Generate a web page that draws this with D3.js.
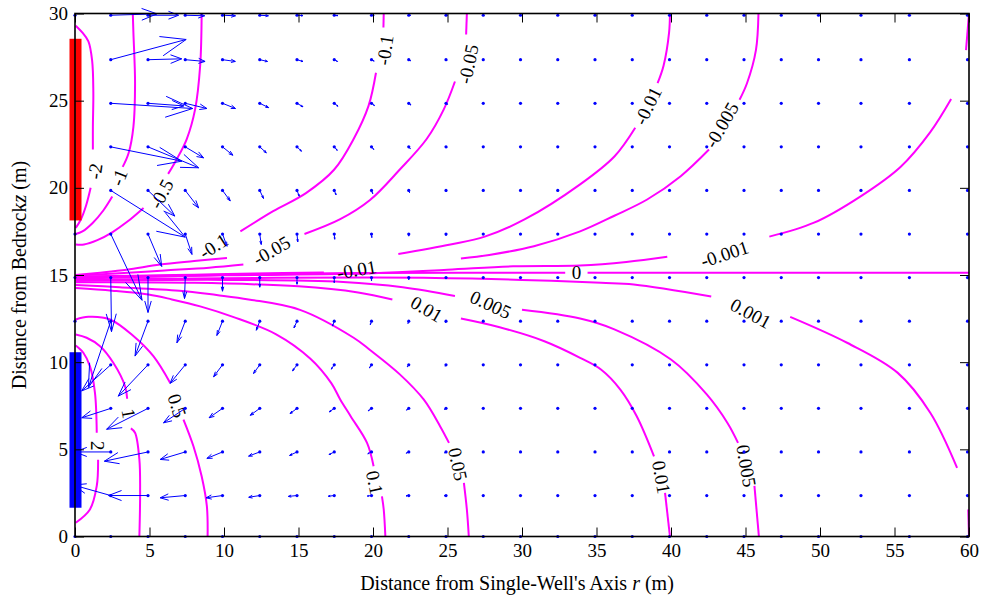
<!DOCTYPE html>
<html>
<head>
<meta charset="utf-8">
<script src="https://cdn.jsdelivr.net/npm/d3@7"></script>
<style>
  body { margin: 0; background: #fff; }
  svg { font-family: "Liberation Serif", "Times New Roman", serif; }
</style>
</head>
<body>
<svg id="chart" width="982" height="599"></svg>
<script>
// grid of the velocity field (r, z in metres)
const rGrid = [0, 2.4, 4.9, 7.4, 9.9, 12.4, 14.9, 17.4, 19.9, 22.4, 24.9, 27.4, 29.9, 32.4,
               34.9, 37.4, 39.9, 42.4, 44.9, 47.4, 49.9, 52.75, 56, 59.9];
const zGrid = [0, 2.35, 4.85, 7.35, 9.85, 12.35, 14.85, 17.35, 19.85, 22.35, 24.85, 27.35, 29.9];

// plotted arrow components (axis units), one row per zGrid value, columns from r = 0;
// columns not listed are (near) zero and only show the base dot
const velR = [
  [0, 0, 0, 0, 0, 0, 0, 0, 0, 0, 0],
  [0, -2.5, -2.65, -1.68, -1.1, -0.74, -0.58, -0.4, -0.28, -0.18, -0.12],
  [0, -2.4, -2.93, -1.68, -1.05, -0.75, -0.5, -0.35, -0.25, -0.17, -0.1],
  [0, -1.95, -2.78, -1.46, -0.9, -0.64, -0.47, -0.33, -0.22, -0.15, -0.1],
  [0, -1.95, -2.0, -1.02, -0.6, -0.42, -0.3, -0.2, -0.14, -0.1, -0.06],
  [0, -1.5, -0.87, -0.56, -0.38, -0.23, -0.2, -0.12, -0.08, -0.05, -0.03],
  [0, 0.05, 0, -0.05, 0, 0, 0, 0, 0, 0, 0],
  [0, 2.1, 0.92, 0.45, 0.3, 0.1, 0.05, 0.03, 0.02, 0, 0],
  [0, 5.0, 1.8, 0.9, 0.52, 0.25, 0.15, 0.12, 0.08, 0.05, 0.03],
  [0, 4.77, 3.4, 1.23, 0.7, 0.44, 0.3, 0.2, 0.15, 0.1, 0.07],
  [0, 5.5, 2.4, 1.45, 0.87, 0.6, 0.4, 0.25, 0.2, 0.15, 0.1],
  [0, 5.06, 2.26, 1.33, 0.86, 0.52, 0.4, 0.22, 0.18, 0.13, 0.06],
  [0, 3.1, 2.05, 1.3, 0.87, 0.58, 0.4, 0.25, 0.18, 0.12, 0.08]
];
const velZ = [
  [0, 0, 0, 0, 0, 0, 0, 0, 0, 0, 0],
  [0, 0.6, 0, -0.13, -0.13, -0.1, -0.05, -0.04, -0.03, -0.02, -0.01],
  [0, 0, -0.53, -0.43, -0.37, -0.24, -0.2, -0.15, -0.1, -0.07, -0.05],
  [0, -0.54, -1.2, -0.83, -0.54, -0.4, -0.3, -0.2, -0.14, -0.1, -0.06],
  [0, -1.5, -1.8, -1.07, -0.69, -0.5, -0.35, -0.25, -0.18, -0.12, -0.08],
  [0, -3.8, -2.0, -1.24, -0.82, -0.52, -0.38, -0.28, -0.2, -0.13, -0.08],
  [0, -3.1, -2.0, -1.2, -0.78, -0.55, -0.38, -0.29, -0.18, -0.12, -0.07],
  [0, -3.8, -1.86, -1.17, -0.7, -0.6, -0.45, -0.3, -0.2, -0.12, -0.08],
  [0, -2.68, -1.47, -1.0, -0.6, -0.46, -0.33, -0.25, -0.18, -0.12, -0.08],
  [0, -0.82, -1.2, -0.63, -0.48, -0.34, -0.25, -0.2, -0.15, -0.1, -0.06],
  [0, -0.3, -0.15, -0.3, -0.3, -0.25, -0.2, -0.17, -0.13, -0.1, -0.06],
  [0, 1.16, 0.05, -0.1, -0.1, -0.1, -0.1, -0.1, -0.08, -0.06, -0.04],
  [0, 0.08, 0, -0.03, -0.03, -0.03, -0.02, -0.02, -0.01, 0, 0]
];

// contour levels and their traced pieces [r, z]
const contourLevels = [-2, -1, -0.5, -0.1, -0.05, -0.01, -0.005, -0.001, 0,
                       0.001, 0.005, 0.01, 0.05, 0.1, 0.5, 1, 2];
const contourPieces = [
  [[[0.05,29.3],[0.5,28.9],[0.9,28.4],[1.15,27.3],[1.23,25.5],[1.2,23.5],[1.2,22.2]],
   [[1.05,20.0],[0.75,19.0],[0.4,18.2],[0.05,17.7]]],
  [[[3.88,30],[3.92,28.9],[4.03,26.0],[3.92,23.5],[3.6,22.0],[3.2,21.2]],
   [[2.5,19.5],[1.9,18.7],[1.2,18.0],[0.5,17.5],[0.05,17.35]]],
  [[[8.5,30],[8.4,27],[8.06,24.5],[7.5,22.8],[6.8,21.6],[6.25,20.8]],
   [[4.6,18.85],[3.5,18.05],[2.5,17.45],[1.5,17.0],[0.6,16.75],[0.05,16.75]]],
  [[[20.72,30],[20.7,29.2]],
   [[20.2,26.6],[19.7,24.7],[18.7,22.8],[17.4,21.05],[15.5,19.7],[13.3,18.66],[11.1,17.5]],
   [[10.2,15.98],[8.0,15.8],[5.7,15.6],[3.47,15.3],[1.5,15.12],[0.05,15.0]]],
  [[[26.3,30],[26.25,28.8]],
   [[25.5,26.1],[24.75,24.5],[23.6,22.8],[21.8,21.05],[19.8,19.3],[17.8,18.2],[15.4,17.35]],
   [[11.3,15.6],[9,15.42],[6,15.26],[3,15.1],[0.05,14.97]]],
  [[[39.93,30],[39.87,28.9],[39.5,27.0],[39.1,26.0]],
   [[37.6,23.45],[36.2,21.8],[33.9,20.2],[30.2,18.2],[27.5,17.2],[25.2,16.75],[21.7,16.2]],
   [[16.7,15.15],[12,15.08],[8,15.02],[4,14.96],[0.05,14.92]]],
  [[[45.87,30],[45.7,27.9],[45.1,26.0],[44.6,25.05]],
   [[42.55,22.2],[40.65,20.67],[38.4,19.33],[36.2,18.4],[33.9,17.5],[30.8,16.65],[27.8,16.15],[25.9,15.95]],
   [[20,15.12],[10,15.0],[0.05,14.88]]],
  [[[0.05,14.83],[10,14.98],[20,15.1],[25,15.3],[29.4,15.5],[33.9,15.55],[37,15.75],[39.75,16.05]],
   [[46.6,17.2],[49.6,18.0],[52.7,19.5],[55.4,21.2],[57.4,23.2],[58.8,25.1]],
   [[59.8,27.9],[60,30]]],
  [[[0.05,14.78],[5,14.9],[10,15.0],[15,15.07],[20,15.11],[32.9,15.13]],
   [[34.4,15.13],[60,15.13]]],
  [[[0.05,14.72],[10,14.82],[20,14.85],[25,14.82],[30,14.72],[35.3,14.55],[37.5,14.46],[42.7,13.77]],
   [[48.0,12.6],[51.85,11.1],[55.2,9.4],[57.4,7.1],[59.2,3.94]],
   [[59.95,1.55],[60,0]]],
  [[[0.05,14.66],[10,14.72],[18,14.6],[22,14.3],[25.5,13.8]],
   [[30,13.0],[33.9,12.5],[36.2,11.88],[40,10.15],[42.4,8.15],[43.8,6.5],[44.5,5.37]],
   [[45.6,2.9],[45.9,0]]],
  [[[0.05,14.58],[8,14.55],[15,14.35],[19,14.0],[21.3,13.6]],
   [[25.9,12.5],[28.5,12.0],[31.5,11.2],[33.9,10.25],[35.3,9.58],[36.6,8.43],[37.7,6.9],[38.86,4.6]],
   [[39.6,2.5],[39.93,0]]],
  [[[0.05,14.42],[3,14.3],[7,14.1],[9.5,13.85],[11.65,13.6],[15.1,13.0],[18.7,11.4],[19.8,10.7],
    [21.8,9.3],[23.4,7.86],[24.5,6.33],[25.1,5.37]],
   [[26.1,3.08],[26.3,1.55],[26.43,0]]],
  [[[0.05,14.25],[2.5,14.1],[4.93,13.88],[6.5,13.6],[8.4,13.2],[10.6,12.6],[13.5,11.6],[15.8,10.2],
    [17.2,8.8],[17.8,7.86],[18.5,6.9],[19.6,5.37],[20.04,4.03]],
   [[20.6,2.3],[20.72,1.55],[20.83,0]]],
  [[[0.05,12.45],[0.9,12.6],[2.35,12.45],[3.92,11.5],[5.26,10.34],[6.38,8.82]],
   [[7.28,6.71],[7.95,5.18],[8.5,3.46],[8.85,1.74],[8.9,0]]],
  [[[0.05,11.59],[0.78,11.4],[1.68,10.92],[2.57,9.97],[3.36,8.62],[3.5,7.9]],
   [[3.75,6.2],[4.03,5.95],[4.32,4.42],[4.37,2.5],[4.32,0]]],
  [[[0.05,10.96],[0.56,10.54],[1.0,9.77],[1.34,8.24],[1.46,5.95]],
   [[1.55,4.4],[1.46,2.9],[1.0,1.55],[0.05,0.79]]]
];
// inline labels: level, r, z, angle (deg)
const contourLabels = [
  [-2, 1.35, 20.95, -82], [-1, 2.95, 20.6, -68], [-0.5, 5.8, 19.65, -62],
  [-0.1, 20.8, 27.9, -82], [-0.1, 9.3, 16.65, -33],
  [-0.05, 26.4, 27.1, -78], [-0.05, 13.2, 16.4, -30],
  [-0.01, 38.45, 24.7, -64], [-0.01, 18.9, 15.3, -10],
  [-0.005, 43.4, 23.6, -60], [-0.001, 43.6, 16.2, -18], [0, 33.65, 15.13, 0],
  [0.001, 45.35, 12.8, 28], [0.005, 27.9, 13.3, 25], [0.01, 23.6, 13.05, 30],
  [0.005, 45.05, 4.05, 80], [0.01, 39.35, 3.4, 80], [0.05, 25.7, 4.15, 78],
  [0.1, 20.1, 3.1, 78], [0.5, 6.85, 7.5, 72], [1, 3.6, 7.05, 80], [2, 1.5, 5.2, 90]
];

// well screens (z range, m)
const wellNames = ["upper", "lower"];
const wellTop = [28.55, 10.57];
const wellBottom = [18.13, 1.65];
const wellColors = ["#ff0000", "#0000ff"];

const xTicks = d3.range(0, 61, 5);
const yTicks = d3.range(0, 31, 5);

const svg = d3.select("#chart");
const pL = 75, pR = 969, pT = 13.5, pB = 536.5;
const x = d3.scaleLinear().domain([0, 60]).range([pL, pR]);
const y = d3.scaleLinear().domain([0, 30]).range([pB, pT]);

// contours (smoothed through the traced points)
const line = d3.line().x(d => x(d[0])).y(d => y(d[1]));
const smooth = d3.line().x(d => x(d[0])).y(d => y(d[1])).curve(d3.curveCatmullRom.alpha(0.5));
const cg = svg.append("g");
contourPieces.forEach((pieces, i) => {
  pieces.forEach(p => {
    cg.append("path")
      .attr("d", smooth(p))
      .attr("fill", "none")
      .attr("stroke", "#ff00ff")
      .attr("stroke-width", 2)
      .attr("stroke-linejoin", "round");
  });
});

cg.selectAll("text.clab")
  .data(contourLabels)
  .join("text")
  .attr("class", "clab")
  .attr("transform", d => `translate(${x(d[1])},${y(d[2])}) rotate(${d[3]})`)
  .attr("text-anchor", "middle")
  .attr("dominant-baseline", "central")
  .style("font-size", "19px")
  .text(d => String(d[0]));

// quiver (heads like matlab: alpha = beta = 0.33, in data units)
const qg = svg.append("g").attr("stroke", "#0000ff").attr("fill", "none").attr("stroke-width", 1);
const alpha = 0.33, beta = 0.33;
zGrid.forEach((z, k) => {
  rGrid.forEach((r, j) => {
    const u = (velR[k][j] || 0), v = (velZ[k][j] || 0);
    qg.append("circle").attr("cx", x(r)).attr("cy", y(z)).attr("r", 1.6)
      .attr("fill", "#0000ff").attr("stroke", "none");
    if (Math.hypot(u, v) < 0.02) return;
    const tr = r + u, tz = z + v;
    qg.append("line").attr("x1", x(r)).attr("y1", y(z)).attr("x2", x(tr)).attr("y2", y(tz));
    const h1 = [tr - alpha * (u + beta * v), tz - alpha * (v - beta * u)];
    const h2 = [tr - alpha * (u - beta * v), tz - alpha * (v + beta * u)];
    qg.append("path").attr("d", line([h1, [tr, tz], h2]));
  });
});

// wells
svg.selectAll("rect.well")
  .data(wellNames)
  .join("rect")
  .attr("class", "well")
  .attr("x", pL - 5.5)
  .attr("width", 12)
  .attr("y", (d, i) => y(wellTop[i]))
  .attr("height", (d, i) => y(wellBottom[i]) - y(wellTop[i]))
  .attr("fill", (d, i) => wellColors[i]);

// axes, ticks inward on all four sides
const fmt = d3.format("d");
const ax = svg.append("g").attr("transform", `translate(0,${pB})`)
  .call(d3.axisBottom(x).tickValues(xTicks).tickFormat(fmt).tickSize(-9).tickPadding(7));
const axT = svg.append("g").attr("transform", `translate(0,${pT})`)
  .call(d3.axisTop(x).tickValues(xTicks).tickFormat("").tickSize(-9));
const ay = svg.append("g").attr("transform", `translate(${pL},0)`)
  .call(d3.axisLeft(y).tickValues(yTicks).tickFormat(fmt).tickSize(-9).tickPadding(7));
const ayR = svg.append("g").attr("transform", `translate(${pR},0)`)
  .call(d3.axisRight(y).tickValues(yTicks).tickFormat("").tickSize(-9));
[ax, axT, ay, ayR].forEach(g => {
  g.select(".domain").remove();
  g.selectAll(".tick line").attr("stroke", "#000").attr("stroke-width", 1);
  g.selectAll("text").style("font-size", "19px").style("font-family", "Liberation Serif").attr("fill", "#000");
});

svg.append("rect")
  .attr("x", pL).attr("y", pT)
  .attr("width", pR - pL).attr("height", pB - pT)
  .attr("fill", "none").attr("stroke", "#000").attr("stroke-width", 1.6);

// axis titles
const xt = svg.append("text")
  .attr("x", (pL + pR) / 2 - 5).attr("y", 590)
  .attr("text-anchor", "middle").style("font-size", "20px");
xt.append("tspan").text("Distance from Single-Well's Axis ");
xt.append("tspan").style("font-style", "italic").text("r");
xt.append("tspan").text(" (m)");

const yt = svg.append("text")
  .attr("transform", `translate(26,${(pT + pB) / 2}) rotate(-90)`)
  .attr("text-anchor", "middle").style("font-size", "20px");
yt.append("tspan").text("Distance from Bedrock");
yt.append("tspan").style("font-style", "italic").text("z");
yt.append("tspan").text(" (m)");
</script>
</body>
</html>
